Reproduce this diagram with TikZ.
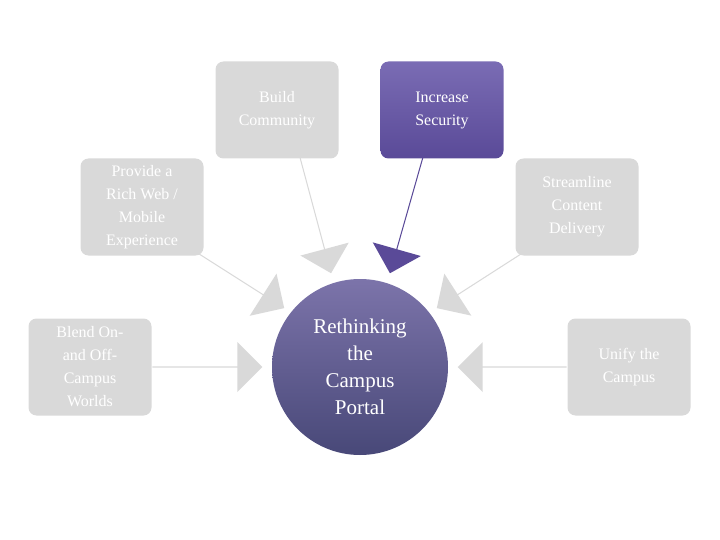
\documentclass[tikz,border=0pt]{standalone}
\usepackage{fontspec}
\setmainfont{Liberation Serif}
\usetikzlibrary{shapes.arrows, calc}
\definecolor{boxgray}{HTML}{D9D9D9}
\definecolor{purpletop}{HTML}{7A6CB4}
\definecolor{purplebot}{HTML}{5A4A98}
\definecolor{circtop}{HTML}{7C74AA}
\definecolor{circbot}{HTML}{484878}
\tikzset{
  box/.style={rounded corners=8pt, minimum width=123pt, minimum height=97pt,
    fill=boxgray, text=white, align=center, inner sep=2pt,
    font=\fontsize{16}{23}\selectfont},
  pbox/.style={box, fill=none, top color=purpletop, bottom color=purplebot},
  blk/.style={single arrow, single arrow head extend=9.5pt, minimum width=50pt,
    inner sep=0pt, outer sep=0pt, fill=boxgray, draw=none},
}
\newcommand{\blockarrow}[4]{% name, from, to, extra style
  \path let \p1=($(#3)-(#2)$), \n1={atan2(\y1,\x1)}, \n2={veclen(\x1,\y1)} in
    node[blk, #4, rotate=\n1, minimum height=\n2] (#1) at ($(#2)!0.5!(#3)$) {};
}
\begin{document}
\begin{tikzpicture}[x=1pt, y=-1pt]
\useasboundingbox (0,0) rectangle (720,540);
% arrow ends
\coordinate (s1) at (152,367); \coordinate (t1) at (262,367);
\coordinate (s2) at (567,367); \coordinate (t2) at (458,367);
\coordinate (s3) at (185,245); \coordinate (t3) at (284,308);
\coordinate (s4) at (535,245); \coordinate (t4) at (437,308);
\coordinate (s5) at (298,150); \coordinate (t5) at (331,273);
\coordinate (s6) at (425,150); \coordinate (t6) at (390,273);
\blockarrow{a1}{s1}{t1}{}
\blockarrow{a2}{s2}{t2}{}
\blockarrow{a3}{s3}{t3}{}
\blockarrow{a4}{s4}{t4}{}
\blockarrow{a5}{s5}{t5}{}
\blockarrow{a6}{s6}{t6}{fill=purplebot}
% boxes
\node[box] (build) at (277,110) {Build\\Community};
\node[pbox] (secure) at (442,110) {Increase\\Security};
\node[box] (rich) at (142,207) {Provide a\\Rich Web /\\Mobile\\Experience};
\node[box] (stream) at (577,207) {Streamline\\Content\\Delivery};
\node[box] (blend) at (90,367) {Blend On-\\and Off-\\Campus\\Worlds};
\node[box] (unify) at (629,367) {Unify the\\Campus};
% centre
\node[circle, minimum size=176pt, inner sep=0pt, top color=circtop, bottom color=circbot,
  text=white, align=center, font=\fontsize{21}{27}\selectfont] (portal) at (360,367)
  {Rethinking\\the\\Campus\\Portal};
\end{tikzpicture}
\end{document}
